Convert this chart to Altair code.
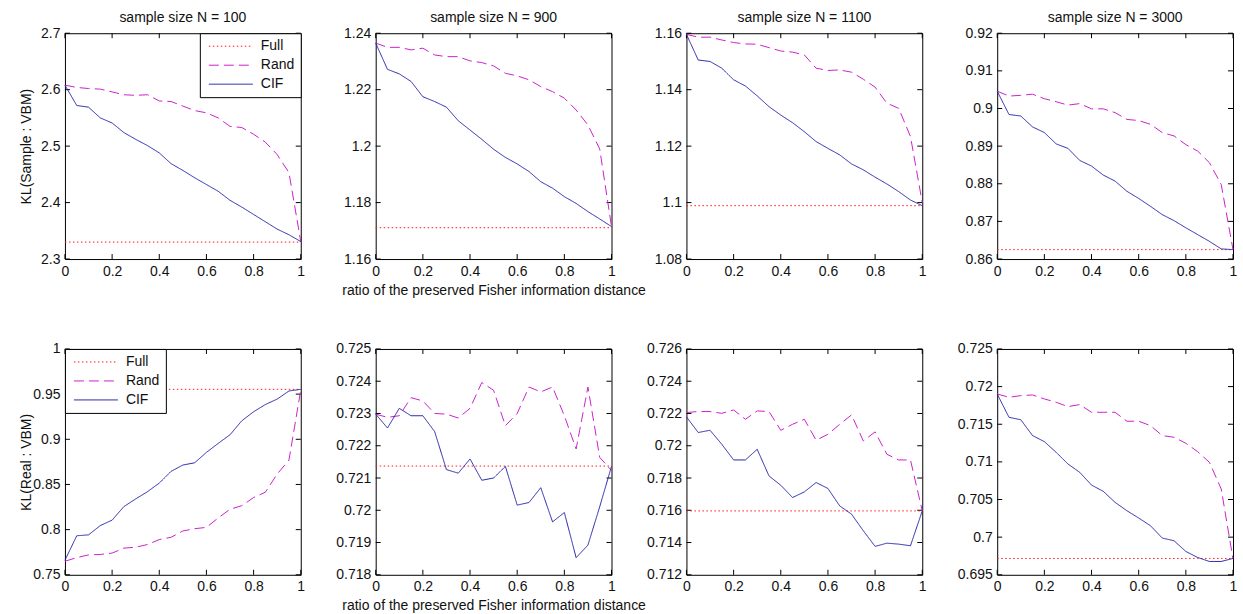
import altair as alt
import pandas as pd

FONT = "Liberation Sans"

X = [0.0, 0.05, 0.1, 0.15, 0.2, 0.25, 0.3, 0.35, 0.4, 0.45, 0.5,
     0.55, 0.6, 0.65, 0.7, 0.75, 0.8, 0.85, 0.9, 0.95, 1.0]
X_TICKS = [0, 0.2, 0.4, 0.6, 0.8, 1]

SERIES = ["Full", "Rand", "CIF"]
COLORS = ["#ff1a1a", "#cc22cc", "#2424aa"]
DASHES = [[1.5, 2.5], [10, 5], [1, 0]]

TITLES = ["sample size N = 100", "sample size N = 900",
          "sample size N = 1100", "sample size N = 3000"]
Y_TITLES = ["KL(Sample : VBM)", "KL(Real : VBM)"]
X_TITLE = "ratio of the preserved Fisher information distance"

# ---- row 1 : KL(Sample : VBM) ----
S100_FULL = 2.33
S100_RAND = [2.608, 2.604, 2.602, 2.601, 2.596, 2.591, 2.590, 2.591, 2.580, 2.579, 2.571,
             2.563, 2.559, 2.550, 2.535, 2.533, 2.521, 2.507, 2.485, 2.453, 2.331]
S100_CIF = [2.608, 2.572, 2.569, 2.550, 2.541, 2.524, 2.512, 2.501, 2.488, 2.469, 2.457,
            2.444, 2.432, 2.420, 2.404, 2.392, 2.379, 2.366, 2.353, 2.343, 2.331]
S100_TICKS = [2.3, 2.4, 2.5, 2.6, 2.7]

S900_FULL = 1.1711
S900_RAND = [1.2365, 1.2350, 1.2350, 1.2341, 1.2347, 1.2323, 1.2317, 1.2317, 1.2302, 1.2296, 1.2284,
             1.2258, 1.2249, 1.2235, 1.2211, 1.2193, 1.2170, 1.2128, 1.2075, 1.1990, 1.1715]
S900_CIF = [1.2365, 1.2272, 1.2256, 1.2229, 1.2175, 1.2158, 1.2138, 1.2090, 1.2057, 1.2024, 1.1989,
            1.1960, 1.1937, 1.1910, 1.1874, 1.1851, 1.1821, 1.1797, 1.1768, 1.1742, 1.1715]
S900_TICKS = [1.16, 1.18, 1.2, 1.22, 1.24]

S1100_FULL = 1.0989
S1100_RAND = [1.1596, 1.1586, 1.1586, 1.1576, 1.1567, 1.1562, 1.1561, 1.1549, 1.1537, 1.1533, 1.1523,
              1.1476, 1.1468, 1.1470, 1.1462, 1.1437, 1.1409, 1.1352, 1.1334, 1.1234, 1.1000]
S1100_CIF = [1.1596, 1.1505, 1.1500, 1.1476, 1.1435, 1.1413, 1.1378, 1.1340, 1.1310, 1.1283, 1.1251,
             1.1216, 1.1192, 1.1169, 1.1137, 1.1116, 1.1090, 1.1066, 1.1039, 1.1009, 1.0989]
S1100_TICKS = [1.08, 1.1, 1.12, 1.14, 1.16]

S3000_FULL = 0.8625
S3000_RAND = [0.9046, 0.9033, 0.9035, 0.9038, 0.9026, 0.9018, 0.9009, 0.9013, 0.8999, 0.8999, 0.8989,
              0.8971, 0.8968, 0.8958, 0.8936, 0.8927, 0.8904, 0.8887, 0.8856, 0.8798, 0.8625]
S3000_CIF = [0.9046, 0.8984, 0.8980, 0.8951, 0.8936, 0.8906, 0.8894, 0.8862, 0.8847, 0.8823, 0.8807,
             0.8780, 0.8761, 0.8740, 0.8718, 0.8702, 0.8683, 0.8665, 0.8647, 0.8627, 0.8625]
S3000_TICKS = [0.86, 0.87, 0.88, 0.89, 0.9, 0.91, 0.92]

# ---- row 2 : KL(Real : VBM) ----
R100_FULL = 0.9553
R100_RAND = [0.765, 0.769, 0.772, 0.7725, 0.774, 0.7795, 0.7805, 0.7835, 0.789, 0.7915, 0.7985,
             0.801, 0.8025, 0.813, 0.8225, 0.8265, 0.8355, 0.8415, 0.8615, 0.877, 0.9546]
R100_CIF = [0.766, 0.7932, 0.7942, 0.8045, 0.8105, 0.8255, 0.834, 0.842, 0.8515, 0.8645, 0.8715,
            0.874, 0.8855, 0.8955, 0.905, 0.9205, 0.9305, 0.9385, 0.9445, 0.9535, 0.9553]
R100_TICKS = [0.75, 0.8, 0.85, 0.9, 0.95, 1]

R900_FULL = 0.72137
R900_RAND = [0.72298, 0.72288, 0.72293, 0.72349, 0.72339, 0.72300, 0.72298, 0.72286, 0.72316, 0.72396, 0.72372,
             0.72262, 0.72300, 0.72382, 0.72367, 0.72382, 0.72293, 0.72190, 0.72382, 0.72164, 0.72123]
R900_CIF = [0.72298, 0.72255, 0.72316, 0.72293, 0.72293, 0.72244, 0.72126, 0.72115, 0.72159, 0.72093, 0.72100,
            0.72136, 0.72016, 0.72024, 0.72070, 0.71964, 0.71993, 0.71853, 0.71892, 0.72011, 0.72136]
R900_TICKS = [0.718, 0.719, 0.72, 0.721, 0.722, 0.723, 0.724, 0.725]

R1100_FULL = 0.71596
R1100_RAND = [0.72206, 0.72212, 0.72212, 0.72201, 0.72222, 0.72164, 0.72216, 0.72212, 0.72096, 0.72133, 0.72164,
              0.72034, 0.72071, 0.72133, 0.72191, 0.72030, 0.72086, 0.71947, 0.71912, 0.71912, 0.71596]
R1100_CIF = [0.72179, 0.72082, 0.72096, 0.72009, 0.71912, 0.71912, 0.71978, 0.71813, 0.71755, 0.71679, 0.71714,
             0.71772, 0.71735, 0.71627, 0.71576, 0.71473, 0.71376, 0.71396, 0.71390, 0.71380, 0.71596]
R1100_TICKS = [0.712, 0.714, 0.716, 0.718, 0.72, 0.722, 0.724, 0.726]

R3000_FULL = 0.69717
R3000_RAND = [0.71902, 0.71858, 0.71880, 0.71889, 0.71836, 0.71792, 0.71734, 0.71761, 0.71659, 0.71659, 0.71659,
              0.71540, 0.71540, 0.71482, 0.71349, 0.71327, 0.71247, 0.71136, 0.70994, 0.70640, 0.69708]
R3000_CIF = [0.71902, 0.71592, 0.71560, 0.71349, 0.71269, 0.71127, 0.70972, 0.70861, 0.70692, 0.70608, 0.70462,
             0.70351, 0.70254, 0.70152, 0.69988, 0.69952, 0.69810, 0.69730, 0.69677, 0.69677, 0.69717]
R3000_TICKS = [0.695, 0.7, 0.705, 0.71, 0.715, 0.72, 0.725]

W, H = 236, 226
TICK_LEN = 5
TXT = "#111111"


def make_legend(orient):
    return alt.Legend(
        title=None, orient=orient, offset=0, padding=6,
        strokeColor="black", fillColor="white", cornerRadius=0,
        symbolType="M-1,0H7.8", symbolSize=100, symbolStrokeWidth=1,
        symbolOffset=1, labelOffset=40, rowPadding=5,
        labelFontSize=14, labelFont=FONT, labelColor=TXT,
    )


def panel(full, rand, cif, yticks, title=None, ytitle=None, xtitle=None, legend_orient=None):
    n = len(X)
    df = pd.DataFrame({
        "x": X * 3,
        "value": [full] * n + rand + cif,
        "series": ["Full"] * n + ["Rand"] * n + ["CIF"] * n,
    })
    xscale = alt.Scale(domain=[0, 1], nice=False, zero=False)
    yscale = alt.Scale(domain=[yticks[0], yticks[-1]], nice=False, zero=False)
    xaxis = alt.Axis(values=X_TICKS, format="~g", ticks=False, domain=False, grid=False,
                     labelPadding=5, labelFlush=False, titlePadding=5)
    if ytitle:
        yaxis = alt.Axis(values=yticks, format="~g", ticks=False, domain=False, grid=False,
                         labelPadding=5, titleX=-31, titleY=H / 2)
    else:
        yaxis = alt.Axis(values=yticks, format="~g", ticks=False, domain=False, grid=False,
                         labelPadding=5)
    x_enc = alt.X("x:Q", scale=xscale, axis=xaxis, title=xtitle)
    y_enc = alt.Y("value:Q", scale=yscale, axis=yaxis, title=ytitle)

    if legend_orient:
        leg = make_legend(legend_orient)
        color = alt.Color("series:N", scale=alt.Scale(domain=SERIES, range=COLORS), legend=leg)
        dash = alt.StrokeDash("series:N", scale=alt.Scale(domain=SERIES, range=DASHES), legend=leg)
    else:
        color = alt.Color("series:N", scale=alt.Scale(domain=SERIES, range=COLORS), legend=None)
        dash = alt.StrokeDash("series:N", scale=alt.Scale(domain=SERIES, range=DASHES), legend=None)

    lines = alt.Chart(df).mark_line(strokeWidth=1).encode(
        x=x_enc, y=y_enc, color=color, strokeDash=dash,
        order=alt.Order("x:Q"),
    )
    xt = pd.DataFrame({"x": X_TICKS})
    yt = pd.DataFrame({"value": yticks})
    rule = dict(color="black", strokeWidth=1)
    t_bottom = alt.Chart(xt).mark_rule(**rule).encode(x=x_enc, y=alt.value(H), y2=alt.value(H - TICK_LEN))
    t_top = alt.Chart(xt).mark_rule(**rule).encode(x=x_enc, y=alt.value(0), y2=alt.value(TICK_LEN))
    t_left = alt.Chart(yt).mark_rule(**rule).encode(y=y_enc, x=alt.value(0), x2=alt.value(TICK_LEN))
    t_right = alt.Chart(yt).mark_rule(**rule).encode(y=y_enc, x=alt.value(W), x2=alt.value(W - TICK_LEN))

    layer = alt.layer(t_bottom, t_top, t_left, t_right, lines)
    if title:
        layer = layer.properties(width=W, height=H, title=alt.Title(title))
    else:
        layer = layer.properties(width=W, height=H)
    return layer


panels = [
    panel(S100_FULL, S100_RAND, S100_CIF, S100_TICKS, title=TITLES[0], ytitle=Y_TITLES[0], legend_orient="top-right"),
    panel(S900_FULL, S900_RAND, S900_CIF, S900_TICKS, title=TITLES[1], xtitle=X_TITLE),
    panel(S1100_FULL, S1100_RAND, S1100_CIF, S1100_TICKS, title=TITLES[2]),
    panel(S3000_FULL, S3000_RAND, S3000_CIF, S3000_TICKS, title=TITLES[3]),
    panel(R100_FULL, R100_RAND, R100_CIF, R100_TICKS, ytitle=Y_TITLES[1], legend_orient="top-left"),
    panel(R900_FULL, R900_RAND, R900_CIF, R900_TICKS, xtitle=X_TITLE),
    panel(R1100_FULL, R1100_RAND, R1100_CIF, R1100_TICKS),
    panel(R3000_FULL, R3000_RAND, R3000_CIF, R3000_TICKS),
]

chart = alt.concat(
    *panels, columns=4, spacing={"row": 90, "column": 75}, bounds="flush"
).resolve_scale(
    x="independent", y="independent", color="independent", strokeDash="independent"
).properties(
    padding={"left": 19, "top": 10, "right": 5, "bottom": 2}
).configure(
    font=FONT, background="white"
).configure_view(
    stroke="black", strokeWidth=1
).configure_axis(
    labelFont=FONT, labelFontSize=14, labelColor=TXT,
    titleFont=FONT, titleFontSize=14, titleFontWeight="normal", titleColor=TXT,
).configure_title(
    font=FONT, fontSize=14, fontWeight="normal", color=TXT, offset=1,
)

chart.save("out.html", embed_options={"renderer": "svg", "actions": False})
